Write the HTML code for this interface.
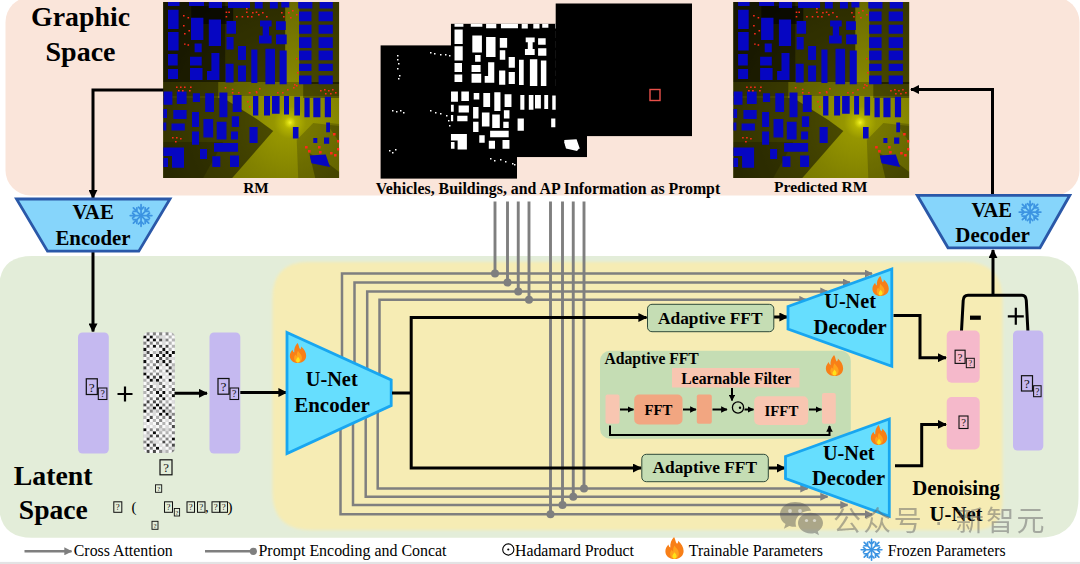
<!DOCTYPE html>
<html lang="en"><head><meta charset="utf-8"><title>RadioDiff framework</title>
<style>
html,body{margin:0;padding:0;background:#fff;}
body{width:1080px;height:564px;overflow:hidden;font-family:"Liberation Serif",serif;}
svg{display:block;}
text{font-family:"Liberation Serif",serif;fill:#000;}
.b{font-weight:bold;}
.cjk{font-family:"Liberation Sans","Noto Sans CJK SC",sans-serif;}
.gl{stroke:#7f7f7f;stroke-width:2.500;fill:none;}
.bl{stroke:#000;stroke-width:3;fill:none;}
.tofu rect{fill:none;stroke:#111;stroke-width:1.1;}
.tofu text{font-family:"Liberation Serif",serif;fill:#111;}
</style></head><body>
<svg width="1080" height="564" viewBox="0 0 1080 564">
<defs>
<radialGradient id="glow" gradientUnits="userSpaceOnUse" cx="126.800" cy="120.500" r="160">
<stop offset="0" stop-color="#e4e418"/><stop offset="0.035" stop-color="#b4b400"/><stop offset="0.1" stop-color="#969600"/><stop offset="0.35" stop-color="#828200"/><stop offset="0.7" stop-color="#6e6e00"/><stop offset="1" stop-color="#5a5a00"/>
</radialGradient>
<radialGradient id="spot"><stop offset="0" stop-color="#f4f430" stop-opacity="0.9"/><stop offset="0.35" stop-color="#e0e010" stop-opacity="0.5"/><stop offset="1" stop-color="#c0c000" stop-opacity="0"/></radialGradient>
<linearGradient id="topdark" x1="0" y1="0" x2="0" y2="1"><stop offset="0" stop-color="#000" stop-opacity="0.75"/><stop offset="0.45" stop-color="#000" stop-opacity="0.35"/><stop offset="0.6" stop-color="#000" stop-opacity="0"/></linearGradient>
<marker id="ab" viewBox="0 0 10 10" refX="9" refY="5" markerUnits="userSpaceOnUse" markerWidth="9" markerHeight="9" orient="auto-start-reverse"><path d="M0 0L10 5L0 10z" fill="#000"/></marker>
<marker id="abs" viewBox="0 0 10 10" refX="9" refY="5" markerUnits="userSpaceOnUse" markerWidth="6.5" markerHeight="6.5" orient="auto-start-reverse"><path d="M0 0L10 5L0 10z" fill="#000"/></marker>
<marker id="ag" viewBox="0 0 10 10" refX="9" refY="5" markerUnits="userSpaceOnUse" markerWidth="8" markerHeight="8" orient="auto-start-reverse"><path d="M0 0L10 5L0 10z" fill="#7f7f7f"/></marker>

<symbol id="rm" viewBox="0 0 176 176" preserveAspectRatio="none" overflow="hidden"><rect width="176" height="176" fill="#2c2c00"/><rect width="176" height="176" fill="url(#glow)"/>
<path d="M0 0H122V80H0z" fill="#000" opacity="0.58"/>
<path d="M0 0H62V80H0z" fill="#000" opacity="0.400"/>
<path d="M136 0H176V82H136z" fill="#000" opacity="0.480"/>
<path d="M0 96H60L95 118L110 129L69 176H0z" fill="#000" opacity="0.5"/>
<path d="M28 4H70V22H28z" fill="#000" opacity="0.55"/>
<path d="M0 80H176V94H0z" fill="#000" opacity="0.220"/>
<path d="M0 80H55V96H0z" fill="#000" opacity="0.400"/>
<path d="M140 80H176V96H140z" fill="#000" opacity="0.350"/>
<path d="M0 140H60L40 176H0z" fill="#000" opacity="0.2"/>
<path d="M133.500 138L135 176H176V124L150 121z" fill="#000" opacity="0.2"/>
<path d="M146 151L167 163L176 170V176H152z" fill="#000" opacity="0.3"/>
<path d="M163 121H167L176 122V140z" fill="#000" opacity="0.2"/>
<circle cx="126.800" cy="120.500" r="7" fill="url(#spot)"/>
<path d="M4.8 0H16.3V4H4.8ZM25.8 0H40.8V4H25.8ZM45.6 0H58.8V6H45.6ZM64.8 0H86.8V6H64.8ZM91.6 0H99.5V6.5H91.6ZM106.6 0H114.6V6.5H106.6ZM118.1 0H126.1V5.5H118.1ZM135 0H149.2V6.5H135ZM156.3 0H169.6V6.5H156.3ZM4.8 7.8H15.4V27H4.8ZM4.8 30H15.4V48.5H4.8ZM4.8 52H14.5V63.6H4.8ZM4.8 67H14.8V77H4.8ZM27.8 15.7H40.2V38H27.8ZM31.4 41.4H38.5V50.3H31.4ZM26.8 54.7H38.5V63.6H26.8ZM26.8 66H39.3V78H26.8ZM45.6 17.5H57.8V44H45.6ZM48.2 51H56.2V72.5H48.2ZM43.8 69H56.2V78H43.8ZM63.3 19H72.8V31.7H63.3ZM63.3 35H70.4V47.6H63.3ZM62.4 61.8H70.4V80.4H62.4ZM74.8 44H82.8V58H74.8ZM74.8 63.6H82.8V79.5H74.8ZM88.1 47.6H94.2V81H88.1ZM96.8 18.4H108.4V24.6H96.8ZM99.5 24.6H105.8V34.3H99.5ZM95.8 33.5H108.4V41.4H95.8ZM112.8 19.3H122.6V28H112.8ZM112.8 32.6H123.5V42.3H112.8ZM102.2 46.8H111.8V82.2H102.2ZM116.4 48.5H123.5V82.2H116.4ZM0.3 89.5H9.2V102.8H0.3ZM13.6 89.5H23.4V102H13.6ZM29.6 91.3H36.8V100H29.6ZM42 91.3H50.8V110H42ZM56.2 90.4H64.2V115.2H56.2ZM69.5 93H78.4V110H69.5ZM89.8 94H95.1V113.5H89.8ZM100.8 94H106.8V113.5H100.8ZM108.8 94H116.4V111.7H108.8ZM120.8 94H125.8V112.6H120.8ZM131.1 94.8H136.8V113.5H131.1ZM141.2 95.7H146.5V115.2H141.2ZM150.1 95.7H157.2V115.2H150.1ZM161.6 94.8H167.8V115.2H161.6ZM0 107H3.8V116H0ZM10.1 108H23.4V117H10.1ZM8.3 121.4H21.6V128.5H8.3ZM0 120.5H3.1V128.5H0ZM28.8 110H35.8V125H28.8ZM28.8 129.4H35.8V142.7H28.8ZM40.2 117H50V135.6H40.2ZM53.5 119.7H63.3V137.4H53.5ZM68.6 114.3H75.8V125H68.6ZM67.8 129.4H74.8V137.4H67.8ZM86.3 125H94.4V141H86.3ZM50.8 141H74.8V149.8H50.8ZM36.8 147H43.8V157H36.8ZM49.1 154.2H57.1V165H49.1ZM66.8 153.4H75.8V165H66.8ZM8.8 145.4H20.8V165.8H8.8ZM0 145.4H8.8V154H0ZM0 156H4.8V165H0ZM129.7 125H135.3V136.5H129.7ZM163 120.5H166.8V130.3H163ZM150.1 136H154.1V141H150.1ZM160.8 135.6H166V141.8H160.8ZM135.8 9.5H148.3V19.3H135.8ZM135.8 22.8H148.3V31.7H135.8ZM135.8 35.2H148.3V45.9H135.8ZM135.8 48.5H148.3V58.3H135.8ZM135.8 61.8H148.3V69H135.8ZM135.8 73.4H148.3V82.2H135.8ZM155.4 9.5H169.6V19.3H155.4ZM155.4 22.8H169.6V31.7H155.4ZM155.4 35.2H169.6V45.9H155.4ZM155.4 48.5H169.6V58.3H155.4ZM155.4 61.8H169.6V69H155.4ZM155.4 73.4H169.6V82.2H155.4ZM146.5 153.4L162.5 152.5L166.8 164.9L148.3 161.3Z" fill="#0606c2"/>
<path d="M19.8 13h1.600v1.400h-1.600zM24.3 15h1.600v1.400h-1.600zM19.8 23h1.600v1.400h-1.600zM25.2 28h1.600v1.400h-1.600zM20.8 31h1.600v1.400h-1.600zM20.8 41.4h1.600v1.400h-1.600zM24.3 42.3h1.600v1.400h-1.600zM62.4 9.5h1.600v1.400h-1.600zM65.1 9.5h1.600v1.400h-1.600zM62.4 14h1.600v1.400h-1.600zM72.8 14h1.600v1.400h-1.600zM78.4 14h1.600v1.400h-1.600zM83.8 14h1.600v1.400h-1.600zM87.8 14h1.600v1.400h-1.600zM82.8 9.5h1.600v1.400h-1.600zM92.5 9.5h1.600v1.400h-1.600zM12.8 84.5h1.600v1.400h-1.600zM16.8 84.5h1.600v1.400h-1.600zM20.8 84.5h1.600v1.400h-1.600zM26.8 84.5h1.600v1.400h-1.600zM14.8 88h1.600v1.400h-1.600zM18.8 88h1.600v1.400h-1.600zM25.8 88h1.600v1.400h-1.600zM61.5 85h1.600v1.400h-1.600zM68.6 86.7h1.600v1.400h-1.600zM68.6 90h1.600v1.400h-1.600zM74.8 90h1.600v1.400h-1.600zM85.5 90h1.600v1.400h-1.600zM92.5 89h1.600v1.400h-1.600zM8.8 135h1.600v1.400h-1.600zM12.8 135h1.600v1.400h-1.600zM16.8 136h1.600v1.400h-1.600zM11.8 139h1.600v1.400h-1.600zM85.8 90h1.600v1.400h-1.600zM92.8 90h1.600v1.400h-1.600zM95.8 86h1.600v1.400h-1.600zM83.8 99h1.600v1.400h-1.600zM85.8 104h1.600v1.400h-1.600zM113.8 90h1.600v1.400h-1.600zM118.8 90h1.600v1.400h-1.600zM123.8 87h1.600v1.400h-1.600zM129.8 85h1.600v1.400h-1.600zM132.8 83h1.600v1.400h-1.600zM156.8 88h1.600v1.400h-1.600zM160.8 87h1.600v1.400h-1.600zM164.8 88h1.600v1.400h-1.600zM168.8 87h1.600v1.400h-1.600zM161.8 91h1.600v1.400h-1.600zM166.8 91h1.600v1.400h-1.600zM171.8 90h1.600v1.400h-1.600zM124.8 10h1.600v1.400h-1.600zM128.8 8h1.600v1.400h-1.600zM132.8 12h1.600v1.400h-1.600zM126.8 15h1.600v1.400h-1.600zM132.8 56h1.600v1.400h-1.600zM133.8 70h1.600v1.400h-1.600zM130.8 82h1.600v1.400h-1.600zM141.8 144h2.600v2.400h-2.600zM144.8 148h2.600v2.400h-2.600zM154.8 144h2.600v2.400h-2.600zM155.8 149h2.600v2.400h-2.600zM166.8 150h2.600v2.400h-2.600zM170.8 152h2.600v2.400h-2.600zM169.8 131h2.600v2.400h-2.600zM173.8 138h2.600v2.400h-2.600zM173.8 146h2.600v2.400h-2.600zM82.8 6h1.600v1.400h-1.600zM88.8 10h1.600v1.400h-1.600zM94.8 12h1.600v1.400h-1.600zM98.8 10h1.600v1.400h-1.600zM102.8 14h1.600v1.400h-1.600zM117.8 10h1.600v1.400h-1.600zM119.8 14h1.600v1.400h-1.600z" fill="#ff2a1a"/>
</symbol>
<symbol id="bld" viewBox="0 0 176 176" preserveAspectRatio="none" overflow="hidden"><rect width="176" height="176" fill="#000"/><path d="M4.8 0H16.3V4H4.8ZM25.8 0H40.8V4H25.8ZM45.6 0H58.8V6H45.6ZM64.8 0H86.8V6H64.8ZM91.6 0H99.5V6.5H91.6ZM106.6 0H114.6V6.5H106.6ZM118.1 0H126.1V5.5H118.1ZM135 0H149.2V6.5H135ZM156.3 0H169.6V6.5H156.3ZM4.8 7.8H15.4V27H4.8ZM4.8 30H15.4V48.5H4.8ZM4.8 52H14.5V63.6H4.8ZM4.8 67H14.8V77H4.8ZM27.8 15.7H40.2V38H27.8ZM31.4 41.4H38.5V50.3H31.4ZM26.8 54.7H38.5V63.6H26.8ZM26.8 66H39.3V78H26.8ZM45.6 17.5H57.8V44H45.6ZM48.2 51H56.2V72.5H48.2ZM43.8 69H56.2V78H43.8ZM63.3 19H72.8V31.7H63.3ZM63.3 35H70.4V47.6H63.3ZM62.4 61.8H70.4V80.4H62.4ZM74.8 44H82.8V58H74.8ZM74.8 63.6H82.8V79.5H74.8ZM88.1 47.6H94.2V81H88.1ZM96.8 18.4H108.4V24.6H96.8ZM99.5 24.6H105.8V34.3H99.5ZM95.8 33.5H108.4V41.4H95.8ZM112.8 19.3H122.6V28H112.8ZM112.8 32.6H123.5V42.3H112.8ZM102.2 46.8H111.8V82.2H102.2ZM116.4 48.5H123.5V82.2H116.4ZM0.3 89.5H9.2V102.8H0.3ZM13.6 89.5H23.4V102H13.6ZM29.6 91.3H36.8V100H29.6ZM42 91.3H50.8V110H42ZM56.2 90.4H64.2V115.2H56.2ZM69.5 93H78.4V110H69.5ZM89.8 94H95.1V113.5H89.8ZM100.8 94H106.8V113.5H100.8ZM108.8 94H116.4V111.7H108.8ZM120.8 94H125.8V112.6H120.8ZM131.1 94.8H136.8V113.5H131.1ZM141.2 95.7H146.5V115.2H141.2ZM150.1 95.7H157.2V115.2H150.1ZM161.6 94.8H167.8V115.2H161.6ZM0 107H3.8V116H0ZM10.1 108H23.4V117H10.1ZM8.3 121.4H21.6V128.5H8.3ZM0 120.5H3.1V128.5H0ZM28.8 110H35.8V125H28.8ZM28.8 129.4H35.8V142.7H28.8ZM40.2 117H50V135.6H40.2ZM53.5 119.7H63.3V137.4H53.5ZM68.6 114.3H75.8V125H68.6ZM67.8 129.4H74.8V137.4H67.8ZM86.3 125H94.4V141H86.3ZM50.8 141H74.8V149.8H50.8ZM36.8 147H43.8V157H36.8ZM49.1 154.2H57.1V165H49.1ZM66.8 153.4H75.8V165H66.8ZM8.8 145.4H20.8V165.8H8.8ZM0 145.4H8.8V154H0ZM0 156H4.8V165H0ZM129.7 125H135.3V136.5H129.7ZM163 120.5H166.8V130.3H163ZM150.1 136H154.1V141H150.1ZM160.8 135.6H166V141.8H160.8ZM135.8 9.5H148.3V19.3H135.8ZM135.8 22.8H148.3V31.7H135.8ZM135.8 35.2H148.3V45.9H135.8ZM135.8 48.5H148.3V58.3H135.8ZM135.8 61.8H148.3V69H135.8ZM135.8 73.4H148.3V82.2H135.8ZM155.4 9.5H169.6V19.3H155.4ZM155.4 22.8H169.6V31.7H155.4ZM155.4 35.2H169.6V45.9H155.4ZM155.4 48.5H169.6V58.3H155.4ZM155.4 61.8H169.6V69H155.4ZM155.4 73.4H169.6V82.2H155.4ZM146.5 153.4L162.5 152.5L166.8 164.9L148.3 161.3Z" fill="#fff"/></symbol>
<symbol id="flame" viewBox="0 0 20 24" overflow="visible">
<path d="M9.5 0.3C11.5 3.2 10.6 5.4 12.6 7.6C13.6 6.7 13.9 5.6 13.7 4.3C17.2 7.4 19.6 11.2 19.6 15.2C19.6 20.2 15.6 23.7 10 23.7C4.4 23.7 0.4 20.2 0.4 15.4C0.4 12.4 1.9 10.2 3.6 8.2C3.9 9.8 4.5 10.8 5.6 11.4C5.2 7.2 6.6 3.2 9.5 0.3z" fill="#f87f17"/>
<path d="M10 9.5C11 11.8 14.6 13.9 14.6 17.7C14.6 21 12.6 23.2 10 23.2C7.4 23.2 5.4 21.2 5.4 18.2C5.4 16.4 6.2 15 7.2 13.9C7.5 14.9 7.9 15.4 8.6 15.7C8.4 13.4 8.9 11.2 10 9.5z" fill="#ffa31c"/>
<path d="M10 16.5C10.8 17.9 12.2 18.8 12.2 20.6C12.2 22.2 11.2 23.2 10 23.2C8.8 23.2 7.8 22.2 7.8 20.7C7.8 19.2 9.2 18.2 10 16.5z" fill="#ffe21a"/>
</symbol>
<symbol id="snow" viewBox="-12 -12 24 24" overflow="visible"><g stroke="#3c94e2" stroke-width="1.700" stroke-linecap="round" fill="none"><path d="M0 0V-10.600M0 -5.600L-2.500 -8.300M0 -5.600L2.500 -8.300" transform="rotate(0)"/><path d="M0 0V-10.600M0 -5.600L-2.500 -8.300M0 -5.600L2.500 -8.300" transform="rotate(45)"/><path d="M0 0V-10.600M0 -5.600L-2.500 -8.300M0 -5.600L2.500 -8.300" transform="rotate(90)"/><path d="M0 0V-10.600M0 -5.600L-2.500 -8.300M0 -5.600L2.500 -8.300" transform="rotate(135)"/><path d="M0 0V-10.600M0 -5.600L-2.500 -8.300M0 -5.600L2.500 -8.300" transform="rotate(180)"/><path d="M0 0V-10.600M0 -5.600L-2.500 -8.300M0 -5.600L2.500 -8.300" transform="rotate(225)"/><path d="M0 0V-10.600M0 -5.600L-2.500 -8.300M0 -5.600L2.500 -8.300" transform="rotate(270)"/><path d="M0 0V-10.600M0 -5.600L-2.500 -8.300M0 -5.600L2.500 -8.300" transform="rotate(315)"/></g></symbol>
</defs>
<rect x="5.500" y="-3" width="1074" height="198.400" rx="25" fill="#fae5da"/>
<path d="M32 256H1040Q1078.500 256 1078.500 294V497Q1078.500 537.700 1038.500 537.700H32Q-1 537.700 -1 504V289Q-1 256 32 256z" fill="#e3edd9"/>
<filter id="soft" x="-5%" y="-5%" width="110%" height="110%"><feGaussianBlur stdDeviation="1.6"/></filter>
<path d="M308.500 262H964.500Q1002.500 262 1002.500 300V502Q1002.500 530 974.500 530H310.500Q272.500 530 272.500 492V298Q272.500 262 308.500 262z" fill="#f6ecb4" filter="url(#soft)"/>
<path class="gl" d="M342 400V273.6H872" marker-end="url(#ag)"/>
<path class="gl" d="M340.5 400V514.25H872" marker-end="url(#ag)"/>
<path class="gl" style="stroke-width:2.900" d="M495 201.500V273.6"/>
<circle cx="495" cy="273.6" r="4" fill="#7f7f7f"/>
<path class="gl" style="stroke-width:2.900" d="M550.5 201.500V514.25"/>
<circle cx="550.5" cy="514.25" r="4" fill="#7f7f7f"/>
<path class="gl" d="M354.5 400V282.5H850" marker-end="url(#ag)"/>
<path class="gl" d="M353 400V505H847.5" marker-end="url(#ag)"/>
<path class="gl" style="stroke-width:2.900" d="M507.5 201.500V282.5"/>
<circle cx="507.5" cy="282.5" r="4" fill="#7f7f7f"/>
<path class="gl" style="stroke-width:2.900" d="M562.5 201.500V505"/>
<circle cx="562.5" cy="505" r="4" fill="#7f7f7f"/>
<path class="gl" d="M367.2 400V291.4H827.5" marker-end="url(#ag)"/>
<path class="gl" d="M365.7 400V496.75H827.5" marker-end="url(#ag)"/>
<path class="gl" style="stroke-width:2.900" d="M518.25 201.500V291.4"/>
<circle cx="518.25" cy="291.4" r="4" fill="#7f7f7f"/>
<path class="gl" style="stroke-width:2.900" d="M573.25 201.500V496.75"/>
<circle cx="573.25" cy="496.75" r="4" fill="#7f7f7f"/>
<path class="gl" d="M379.5 400V299.8H806.5" marker-end="url(#ag)"/>
<path class="gl" d="M377.7 400V488.5H807.5" marker-end="url(#ag)"/>
<path class="gl" style="stroke-width:2.900" d="M529 201.500V299.8"/>
<circle cx="529" cy="299.8" r="4" fill="#7f7f7f"/>
<path class="gl" style="stroke-width:2.900" d="M584 201.500V488.5"/>
<circle cx="584" cy="488.5" r="4" fill="#7f7f7f"/>
<use href="#rm" x="163.2" y="2" width="176" height="176"/>
<use href="#rm" x="733.3" y="2" width="176" height="176"/>
<rect x="380.600" y="45.400" width="136.400" height="133.200" fill="#000"/>
<path d="M397 55h1.5v1.5h-1.5zM397 59h1.5v1.5h-1.5zM398 63h1.5v1.5h-1.5zM397 68h1.5v1.5h-1.5zM399 75h1.5v1.5h-1.5zM398 78h1.5v1.5h-1.5zM430 52h1.5v1.5h-1.5zM434 53h1.5v1.5h-1.5zM440 54h1.5v1.5h-1.5zM445 54h1.5v1.5h-1.5zM449 55h1.5v1.5h-1.5zM392 110h1.5v1.5h-1.5zM396 111h1.5v1.5h-1.5zM400 110h1.5v1.5h-1.5zM403 112h1.5v1.5h-1.5zM430 110h1.5v1.5h-1.5zM435 112h1.5v1.5h-1.5zM440 113h1.5v1.5h-1.5zM446 115h1.5v1.5h-1.5zM448 120h1.5v1.5h-1.5zM449 125h1.5v1.5h-1.5zM389 150h1.5v1.5h-1.5zM392 152h1.5v1.5h-1.5zM395 149h1.5v1.5h-1.5zM490 158h1.5v1.5h-1.5zM494 160h1.5v1.5h-1.5zM500 159h1.5v1.5h-1.5zM505 161h1.5v1.5h-1.5zM512 163h1.5v1.5h-1.5zM514 164h1.5v1.5h-1.5z" fill="#fff"/>
<use href="#bld" x="450.800" y="23.600" width="136.200" height="133.600"/>
<path d="M564 141.5L575 141L579 148.5L577 151L566 148.5z" fill="#fff"/>
<rect x="555.7" y="3.5" width="136.3" height="132.6" fill="#000"/>
<rect x="650" y="89.5" width="10" height="11" fill="none" stroke="#e8504a" stroke-width="1.4"/>
<path class="bl" d="M163.500 90H93V198" marker-end="url(#ab)"/>
<path class="bl" d="M93 252V331.5" marker-end="url(#ab)"/>
<path class="bl" d="M992.500 195V89.500H911" marker-end="url(#ab)"/>
<path class="bl" d="M961.500 331L963.200 300.500Q963.500 295.300 968 295.300H1022Q1026 295.300 1026.300 300.500L1027.900 331"/>
<path class="bl" d="M993 295.300V250" marker-end="url(#ab)"/>
<path d="M16.500 199H170L138.800 251.200H47.500z" fill="#86d5fb" stroke="#2a58a8" stroke-width="2.800"/>
<path d="M917.300 195.300H1069.800L1040 247.800H948z" fill="#86d5fb" stroke="#2a58a8" stroke-width="2.800"/>
<use href="#snow" x="128.800" y="203.300" width="24.500" height="24.500"/>
<use href="#snow" x="1017.800" y="199.800" width="24.500" height="24.500"/>
<rect x="78" y="332.5" width="30.8" height="121" rx="4.5" fill="#c5b9f0"/>
<rect x="209.5" y="332.5" width="30.8" height="121" rx="4.5" fill="#c5b9f0"/>
<rect x="1013" y="330.5" width="30.3" height="120" rx="4.5" fill="#c5b9f0"/>
<rect x="946.7" y="330.5" width="33" height="52.3" rx="5" fill="#f5b9cb"/>
<rect x="946.7" y="397" width="33" height="52.5" rx="5" fill="#f5b9cb"/>
<clipPath id="nc"><rect x="143.3" y="332.3" width="31.6" height="120.6" rx="5"/></clipPath><g clip-path="url(#nc)"><rect x="143.3" y="332.3" width="31.6" height="120.6" fill="#bbb"/>
<path d="M143.3 335.4h3.2v3.1h-3.2zM149.6 335.4h3.2v3.1h-3.2zM146.5 338.5h3.2v3.1h-3.2zM152.8 338.5h3.2v3.1h-3.2zM152.8 344.7h3.2v3.1h-3.2zM143.3 347.8h3.2v3.1h-3.2zM162.3 347.8h3.2v3.1h-3.2zM165.4 350.9h3.2v3.1h-3.2zM171.7 350.9h3.2v3.1h-3.2zM149.6 353.9h3.2v3.1h-3.2zM155.9 353.9h3.2v3.1h-3.2zM162.3 353.9h3.2v3.1h-3.2zM168.6 353.9h3.2v3.1h-3.2zM143.3 360.1h3.2v3.1h-3.2zM162.3 360.1h3.2v3.1h-3.2zM165.4 363.2h3.2v3.1h-3.2zM155.9 366.3h3.2v3.1h-3.2zM143.3 372.5h3.2v3.1h-3.2zM168.6 372.5h3.2v3.1h-3.2zM146.5 375.6h3.2v3.1h-3.2zM159.1 375.6h3.2v3.1h-3.2zM149.6 378.7h3.2v3.1h-3.2zM155.9 378.7h3.2v3.1h-3.2zM168.6 378.7h3.2v3.1h-3.2zM155.9 391.1h3.2v3.1h-3.2zM162.3 391.1h3.2v3.1h-3.2zM159.1 394.1h3.2v3.1h-3.2zM171.7 394.1h3.2v3.1h-3.2zM162.3 397.2h3.2v3.1h-3.2zM155.9 403.4h3.2v3.1h-3.2zM152.8 406.5h3.2v3.1h-3.2zM159.1 406.5h3.2v3.1h-3.2zM143.3 409.6h3.2v3.1h-3.2zM162.3 409.6h3.2v3.1h-3.2zM159.1 412.7h3.2v3.1h-3.2zM165.4 412.7h3.2v3.1h-3.2zM146.5 418.9h3.2v3.1h-3.2zM143.3 428.2h3.2v3.1h-3.2zM152.8 431.3h3.2v3.1h-3.2zM171.7 437.4h3.2v3.1h-3.2zM146.5 443.6h3.2v3.1h-3.2zM155.9 446.7h3.2v3.1h-3.2z" fill="#0c0c0c"/>
<path d="M159.1 338.5h3.2v3.1h-3.2zM146.5 344.7h3.2v3.1h-3.2zM159.1 344.7h3.2v3.1h-3.2zM165.4 344.7h3.2v3.1h-3.2zM146.5 350.9h3.2v3.1h-3.2zM159.1 350.9h3.2v3.1h-3.2zM159.1 357h3.2v3.1h-3.2zM155.9 360.1h3.2v3.1h-3.2zM168.6 360.1h3.2v3.1h-3.2zM143.3 366.3h3.2v3.1h-3.2zM168.6 366.3h3.2v3.1h-3.2zM165.4 369.4h3.2v3.1h-3.2zM152.8 375.6h3.2v3.1h-3.2zM149.6 384.9h3.2v3.1h-3.2zM162.3 384.9h3.2v3.1h-3.2zM146.5 388h3.2v3.1h-3.2zM171.7 388h3.2v3.1h-3.2zM155.9 397.2h3.2v3.1h-3.2zM146.5 400.3h3.2v3.1h-3.2zM152.8 400.3h3.2v3.1h-3.2zM143.3 403.4h3.2v3.1h-3.2zM168.6 403.4h3.2v3.1h-3.2zM149.6 415.8h3.2v3.1h-3.2zM168.6 415.8h3.2v3.1h-3.2zM171.7 425.1h3.2v3.1h-3.2zM149.6 434.3h3.2v3.1h-3.2zM155.9 434.3h3.2v3.1h-3.2zM146.5 437.4h3.2v3.1h-3.2zM162.3 440.5h3.2v3.1h-3.2zM152.8 443.6h3.2v3.1h-3.2zM171.7 443.6h3.2v3.1h-3.2zM146.5 449.8h3.2v3.1h-3.2zM152.8 449.8h3.2v3.1h-3.2z" fill="#4a4a4a"/>
<path d="M146.5 332.3h3.2v3.1h-3.2zM152.8 332.3h3.2v3.1h-3.2zM159.1 332.3h3.2v3.1h-3.2zM165.4 332.3h3.2v3.1h-3.2zM165.4 338.5h3.2v3.1h-3.2zM143.3 341.6h3.2v3.1h-3.2zM149.6 341.6h3.2v3.1h-3.2zM155.9 341.6h3.2v3.1h-3.2zM143.3 353.9h3.2v3.1h-3.2zM165.4 357h3.2v3.1h-3.2zM146.5 363.2h3.2v3.1h-3.2zM152.8 363.2h3.2v3.1h-3.2zM149.6 372.5h3.2v3.1h-3.2zM155.9 372.5h3.2v3.1h-3.2zM159.1 381.8h3.2v3.1h-3.2zM152.8 388h3.2v3.1h-3.2zM159.1 388h3.2v3.1h-3.2zM149.6 391.1h3.2v3.1h-3.2zM168.6 391.1h3.2v3.1h-3.2zM146.5 394.1h3.2v3.1h-3.2zM149.6 397.2h3.2v3.1h-3.2zM159.1 400.3h3.2v3.1h-3.2zM149.6 403.4h3.2v3.1h-3.2zM162.3 403.4h3.2v3.1h-3.2zM146.5 406.5h3.2v3.1h-3.2zM165.4 406.5h3.2v3.1h-3.2zM149.6 409.6h3.2v3.1h-3.2zM168.6 409.6h3.2v3.1h-3.2zM171.7 412.7h3.2v3.1h-3.2zM162.3 415.8h3.2v3.1h-3.2zM159.1 418.9h3.2v3.1h-3.2zM171.7 418.9h3.2v3.1h-3.2zM155.9 422h3.2v3.1h-3.2zM168.6 422h3.2v3.1h-3.2zM149.6 428.2h3.2v3.1h-3.2zM155.9 428.2h3.2v3.1h-3.2zM171.7 431.3h3.2v3.1h-3.2zM162.3 434.3h3.2v3.1h-3.2zM165.4 437.4h3.2v3.1h-3.2zM143.3 440.5h3.2v3.1h-3.2zM149.6 440.5h3.2v3.1h-3.2zM168.6 440.5h3.2v3.1h-3.2zM165.4 443.6h3.2v3.1h-3.2zM149.6 446.7h3.2v3.1h-3.2zM159.1 449.8h3.2v3.1h-3.2zM171.7 449.8h3.2v3.1h-3.2z" fill="#858585"/>
<path d="M171.7 332.3h3.2v3.1h-3.2zM155.9 335.4h3.2v3.1h-3.2zM168.6 335.4h3.2v3.1h-3.2zM171.7 338.5h3.2v3.1h-3.2zM168.6 341.6h3.2v3.1h-3.2zM171.7 344.7h3.2v3.1h-3.2zM168.6 347.8h3.2v3.1h-3.2zM152.8 350.9h3.2v3.1h-3.2zM146.5 357h3.2v3.1h-3.2zM149.6 360.1h3.2v3.1h-3.2zM159.1 363.2h3.2v3.1h-3.2zM171.7 363.2h3.2v3.1h-3.2zM149.6 366.3h3.2v3.1h-3.2zM152.8 369.4h3.2v3.1h-3.2zM159.1 369.4h3.2v3.1h-3.2zM171.7 369.4h3.2v3.1h-3.2zM171.7 375.6h3.2v3.1h-3.2zM143.3 378.7h3.2v3.1h-3.2zM162.3 378.7h3.2v3.1h-3.2zM146.5 381.8h3.2v3.1h-3.2zM171.7 381.8h3.2v3.1h-3.2zM143.3 384.9h3.2v3.1h-3.2zM168.6 384.9h3.2v3.1h-3.2zM143.3 391.1h3.2v3.1h-3.2zM165.4 394.1h3.2v3.1h-3.2zM168.6 397.2h3.2v3.1h-3.2zM165.4 400.3h3.2v3.1h-3.2zM171.7 406.5h3.2v3.1h-3.2zM155.9 409.6h3.2v3.1h-3.2zM146.5 412.7h3.2v3.1h-3.2zM143.3 415.8h3.2v3.1h-3.2zM155.9 415.8h3.2v3.1h-3.2zM152.8 418.9h3.2v3.1h-3.2zM162.3 422h3.2v3.1h-3.2zM159.1 425.1h3.2v3.1h-3.2zM162.3 428.2h3.2v3.1h-3.2zM168.6 428.2h3.2v3.1h-3.2zM146.5 431.3h3.2v3.1h-3.2zM159.1 431.3h3.2v3.1h-3.2zM165.4 431.3h3.2v3.1h-3.2zM168.6 434.3h3.2v3.1h-3.2zM159.1 437.4h3.2v3.1h-3.2zM143.3 446.7h3.2v3.1h-3.2zM168.6 446.7h3.2v3.1h-3.2zM165.4 449.8h3.2v3.1h-3.2z" fill="#b4b4b4"/>
<path d="M159.1 335.4h3.2v3.1h-3.2zM162.3 335.4h3.2v3.1h-3.2zM162.3 338.5h3.2v3.1h-3.2zM162.3 341.6h3.2v3.1h-3.2zM149.6 347.8h3.2v3.1h-3.2zM155.9 347.8h3.2v3.1h-3.2zM143.3 350.9h3.2v3.1h-3.2zM155.9 350.9h3.2v3.1h-3.2zM162.3 350.9h3.2v3.1h-3.2zM152.8 357h3.2v3.1h-3.2zM168.6 357h3.2v3.1h-3.2zM171.7 357h3.2v3.1h-3.2zM159.1 360.1h3.2v3.1h-3.2zM162.3 366.3h3.2v3.1h-3.2zM171.7 366.3h3.2v3.1h-3.2zM143.3 369.4h3.2v3.1h-3.2zM146.5 369.4h3.2v3.1h-3.2zM162.3 372.5h3.2v3.1h-3.2zM165.4 375.6h3.2v3.1h-3.2zM152.8 378.7h3.2v3.1h-3.2zM152.8 381.8h3.2v3.1h-3.2zM155.9 381.8h3.2v3.1h-3.2zM165.4 381.8h3.2v3.1h-3.2zM155.9 384.9h3.2v3.1h-3.2zM155.9 388h3.2v3.1h-3.2zM165.4 388h3.2v3.1h-3.2zM152.8 394.1h3.2v3.1h-3.2zM143.3 397.2h3.2v3.1h-3.2zM171.7 400.3h3.2v3.1h-3.2zM149.6 406.5h3.2v3.1h-3.2zM152.8 409.6h3.2v3.1h-3.2zM165.4 409.6h3.2v3.1h-3.2zM152.8 412.7h3.2v3.1h-3.2zM168.6 412.7h3.2v3.1h-3.2zM165.4 418.9h3.2v3.1h-3.2zM143.3 422h3.2v3.1h-3.2zM149.6 422h3.2v3.1h-3.2zM146.5 425.1h3.2v3.1h-3.2zM152.8 425.1h3.2v3.1h-3.2zM165.4 425.1h3.2v3.1h-3.2zM159.1 428.2h3.2v3.1h-3.2zM165.4 428.2h3.2v3.1h-3.2zM143.3 434.3h3.2v3.1h-3.2zM146.5 434.3h3.2v3.1h-3.2zM152.8 437.4h3.2v3.1h-3.2zM152.8 440.5h3.2v3.1h-3.2zM155.9 440.5h3.2v3.1h-3.2zM159.1 443.6h3.2v3.1h-3.2zM162.3 446.7h3.2v3.1h-3.2zM171.7 446.7h3.2v3.1h-3.2zM162.3 449.8h3.2v3.1h-3.2z" fill="#dcdcdc"/>
<path d="M143.3 332.3h3.2v3.1h-3.2zM149.6 332.3h3.2v3.1h-3.2zM155.9 332.3h3.2v3.1h-3.2zM162.3 332.3h3.2v3.1h-3.2zM168.6 332.3h3.2v3.1h-3.2zM146.5 335.4h3.2v3.1h-3.2zM152.8 335.4h3.2v3.1h-3.2zM165.4 335.4h3.2v3.1h-3.2zM171.7 335.4h3.2v3.1h-3.2zM143.3 338.5h3.2v3.1h-3.2zM149.6 338.5h3.2v3.1h-3.2zM155.9 338.5h3.2v3.1h-3.2zM168.6 338.5h3.2v3.1h-3.2zM146.5 341.6h3.2v3.1h-3.2zM152.8 341.6h3.2v3.1h-3.2zM159.1 341.6h3.2v3.1h-3.2zM165.4 341.6h3.2v3.1h-3.2zM171.7 341.6h3.2v3.1h-3.2zM143.3 344.7h3.2v3.1h-3.2zM149.6 344.7h3.2v3.1h-3.2zM155.9 344.7h3.2v3.1h-3.2zM162.3 344.7h3.2v3.1h-3.2zM168.6 344.7h3.2v3.1h-3.2zM146.5 347.8h3.2v3.1h-3.2zM152.8 347.8h3.2v3.1h-3.2zM159.1 347.8h3.2v3.1h-3.2zM165.4 347.8h3.2v3.1h-3.2zM171.7 347.8h3.2v3.1h-3.2zM149.6 350.9h3.2v3.1h-3.2zM168.6 350.9h3.2v3.1h-3.2zM146.5 353.9h3.2v3.1h-3.2zM152.8 353.9h3.2v3.1h-3.2zM159.1 353.9h3.2v3.1h-3.2zM165.4 353.9h3.2v3.1h-3.2zM171.7 353.9h3.2v3.1h-3.2zM143.3 357h3.2v3.1h-3.2zM149.6 357h3.2v3.1h-3.2zM155.9 357h3.2v3.1h-3.2zM162.3 357h3.2v3.1h-3.2zM146.5 360.1h3.2v3.1h-3.2zM152.8 360.1h3.2v3.1h-3.2zM165.4 360.1h3.2v3.1h-3.2zM171.7 360.1h3.2v3.1h-3.2zM143.3 363.2h3.2v3.1h-3.2zM149.6 363.2h3.2v3.1h-3.2zM155.9 363.2h3.2v3.1h-3.2zM162.3 363.2h3.2v3.1h-3.2zM168.6 363.2h3.2v3.1h-3.2zM146.5 366.3h3.2v3.1h-3.2zM152.8 366.3h3.2v3.1h-3.2zM159.1 366.3h3.2v3.1h-3.2zM165.4 366.3h3.2v3.1h-3.2zM149.6 369.4h3.2v3.1h-3.2zM155.9 369.4h3.2v3.1h-3.2zM162.3 369.4h3.2v3.1h-3.2zM168.6 369.4h3.2v3.1h-3.2zM146.5 372.5h3.2v3.1h-3.2zM152.8 372.5h3.2v3.1h-3.2zM159.1 372.5h3.2v3.1h-3.2zM165.4 372.5h3.2v3.1h-3.2zM171.7 372.5h3.2v3.1h-3.2zM143.3 375.6h3.2v3.1h-3.2zM149.6 375.6h3.2v3.1h-3.2zM155.9 375.6h3.2v3.1h-3.2zM162.3 375.6h3.2v3.1h-3.2zM168.6 375.6h3.2v3.1h-3.2zM146.5 378.7h3.2v3.1h-3.2zM159.1 378.7h3.2v3.1h-3.2zM165.4 378.7h3.2v3.1h-3.2zM171.7 378.7h3.2v3.1h-3.2zM143.3 381.8h3.2v3.1h-3.2zM149.6 381.8h3.2v3.1h-3.2zM162.3 381.8h3.2v3.1h-3.2zM168.6 381.8h3.2v3.1h-3.2zM146.5 384.9h3.2v3.1h-3.2zM152.8 384.9h3.2v3.1h-3.2zM159.1 384.9h3.2v3.1h-3.2zM165.4 384.9h3.2v3.1h-3.2zM171.7 384.9h3.2v3.1h-3.2zM143.3 388h3.2v3.1h-3.2zM149.6 388h3.2v3.1h-3.2zM162.3 388h3.2v3.1h-3.2zM168.6 388h3.2v3.1h-3.2zM146.5 391.1h3.2v3.1h-3.2zM152.8 391.1h3.2v3.1h-3.2zM159.1 391.1h3.2v3.1h-3.2zM165.4 391.1h3.2v3.1h-3.2zM171.7 391.1h3.2v3.1h-3.2zM143.3 394.1h3.2v3.1h-3.2zM149.6 394.1h3.2v3.1h-3.2zM155.9 394.1h3.2v3.1h-3.2zM162.3 394.1h3.2v3.1h-3.2zM168.6 394.1h3.2v3.1h-3.2zM146.5 397.2h3.2v3.1h-3.2zM152.8 397.2h3.2v3.1h-3.2zM159.1 397.2h3.2v3.1h-3.2zM165.4 397.2h3.2v3.1h-3.2zM171.7 397.2h3.2v3.1h-3.2zM143.3 400.3h3.2v3.1h-3.2zM149.6 400.3h3.2v3.1h-3.2zM155.9 400.3h3.2v3.1h-3.2zM162.3 400.3h3.2v3.1h-3.2zM168.6 400.3h3.2v3.1h-3.2zM146.5 403.4h3.2v3.1h-3.2zM152.8 403.4h3.2v3.1h-3.2zM159.1 403.4h3.2v3.1h-3.2zM165.4 403.4h3.2v3.1h-3.2zM171.7 403.4h3.2v3.1h-3.2zM143.3 406.5h3.2v3.1h-3.2zM155.9 406.5h3.2v3.1h-3.2zM162.3 406.5h3.2v3.1h-3.2zM168.6 406.5h3.2v3.1h-3.2zM146.5 409.6h3.2v3.1h-3.2zM159.1 409.6h3.2v3.1h-3.2zM171.7 409.6h3.2v3.1h-3.2zM143.3 412.7h3.2v3.1h-3.2zM149.6 412.7h3.2v3.1h-3.2zM155.9 412.7h3.2v3.1h-3.2zM162.3 412.7h3.2v3.1h-3.2zM146.5 415.8h3.2v3.1h-3.2zM152.8 415.8h3.2v3.1h-3.2zM159.1 415.8h3.2v3.1h-3.2zM165.4 415.8h3.2v3.1h-3.2zM171.7 415.8h3.2v3.1h-3.2zM143.3 418.9h3.2v3.1h-3.2zM149.6 418.9h3.2v3.1h-3.2zM155.9 418.9h3.2v3.1h-3.2zM162.3 418.9h3.2v3.1h-3.2zM168.6 418.9h3.2v3.1h-3.2zM146.5 422h3.2v3.1h-3.2zM152.8 422h3.2v3.1h-3.2zM159.1 422h3.2v3.1h-3.2zM165.4 422h3.2v3.1h-3.2zM171.7 422h3.2v3.1h-3.2zM143.3 425.1h3.2v3.1h-3.2zM149.6 425.1h3.2v3.1h-3.2zM155.9 425.1h3.2v3.1h-3.2zM162.3 425.1h3.2v3.1h-3.2zM168.6 425.1h3.2v3.1h-3.2zM146.5 428.2h3.2v3.1h-3.2zM152.8 428.2h3.2v3.1h-3.2zM171.7 428.2h3.2v3.1h-3.2zM143.3 431.3h3.2v3.1h-3.2zM149.6 431.3h3.2v3.1h-3.2zM155.9 431.3h3.2v3.1h-3.2zM162.3 431.3h3.2v3.1h-3.2zM168.6 431.3h3.2v3.1h-3.2zM152.8 434.3h3.2v3.1h-3.2zM159.1 434.3h3.2v3.1h-3.2zM165.4 434.3h3.2v3.1h-3.2zM171.7 434.3h3.2v3.1h-3.2zM143.3 437.4h3.2v3.1h-3.2zM149.6 437.4h3.2v3.1h-3.2zM155.9 437.4h3.2v3.1h-3.2zM162.3 437.4h3.2v3.1h-3.2zM168.6 437.4h3.2v3.1h-3.2zM146.5 440.5h3.2v3.1h-3.2zM159.1 440.5h3.2v3.1h-3.2zM165.4 440.5h3.2v3.1h-3.2zM171.7 440.5h3.2v3.1h-3.2zM143.3 443.6h3.2v3.1h-3.2zM149.6 443.6h3.2v3.1h-3.2zM155.9 443.6h3.2v3.1h-3.2zM162.3 443.6h3.2v3.1h-3.2zM168.6 443.6h3.2v3.1h-3.2zM146.5 446.7h3.2v3.1h-3.2zM152.8 446.7h3.2v3.1h-3.2zM159.1 446.7h3.2v3.1h-3.2zM165.4 446.7h3.2v3.1h-3.2zM143.3 449.8h3.2v3.1h-3.2zM149.6 449.8h3.2v3.1h-3.2zM155.9 449.8h3.2v3.1h-3.2zM168.6 449.8h3.2v3.1h-3.2z" fill="#fafafa"/>
</g>
<path d="M117.5 394H132.5M125 386.5V401.5" stroke="#000" stroke-width="2.2"/>
<path class="bl" d="M174.5 393.3H207" marker-end="url(#ab)"/>
<path class="bl" d="M240.3 392.5H286.5" marker-end="url(#ab)"/>
<path d="M287 332.5L391.2 380V405.5L287 453.5z" fill="#66defe" stroke="#18a6f0" stroke-width="2.800"/>
<path class="bl" d="M392 393H411.2"/>
<path class="bl" d="M411.2 393V317.5H646.5" marker-end="url(#ab)"/>
<path class="bl" d="M411.2 393V468H641" marker-end="url(#ab)"/>
<path class="bl" d="M774 317H787.5" marker-end="url(#ab)"/>
<path class="bl" d="M768.5 468H785" marker-end="url(#ab)"/>
<path class="bl" d="M893.5 315.5H920V357.7H946" marker-end="url(#ab)"/>
<path class="bl" d="M895 465.800H921.700V424.400H946" marker-end="url(#ab)"/>
<rect x="647.5" y="304.3" width="126.3" height="27.4" rx="4.5" fill="#c5ddb4" stroke="#2f4a3a" stroke-width="1"/>
<rect x="641.8" y="454.3" width="126.5" height="27.4" rx="4.5" fill="#c5ddb4" stroke="#2f4a3a" stroke-width="1"/>
<rect x="600" y="350.8" width="250.8" height="88" rx="10" fill="#c5ddb4"/>
<rect x="672" y="368" width="127.5" height="19.5" fill="#f8c6b1"/>
<rect x="605.5" y="394.5" width="14" height="29.3" rx="2" fill="#f8c6b1"/>
<rect x="634.2" y="394.5" width="48.3" height="30" rx="5" fill="#f2a681"/>
<rect x="696.8" y="394.5" width="15" height="29.3" rx="2" fill="#f2a681"/>
<rect x="754.2" y="396.2" width="54" height="28.8" rx="5" fill="#f8c6b1"/>
<rect x="822" y="393" width="13.8" height="30.8" rx="2" fill="#f8c6b1"/>
<g stroke="#000" stroke-width="2" fill="none">
<path d="M620 409.5H633.5" marker-end="url(#abs)"/>
<path d="M683 409.5H696" marker-end="url(#abs)"/>
<path d="M712.5 409.5H727" marker-end="url(#abs)"/>
<path d="M744.5 409.5H753.5" marker-end="url(#abs)"/>
<path d="M809 409.5H821.5" marker-end="url(#abs)"/>
<path d="M732 388V400.5" marker-end="url(#abs)"/>
<path d="M610 425.5V435H829.5V426" marker-end="url(#abs)"/>
</g>
<circle cx="738" cy="407.5" r="5.6" fill="none" stroke="#000" stroke-width="1.3"/><circle cx="740" cy="407.8" r="1.2" fill="#000"/>
<path d="M788 306.500L891.800 269V366.200L788 329z" fill="#66defe" stroke="#18a6f0" stroke-width="2.800"/>
<path d="M785.500 456.500L889.300 419V516.200L785.500 478.500z" fill="#66defe" stroke="#18a6f0" stroke-width="2.800"/>
<use href="#flame" x="289.5" y="342.5" width="17" height="21"/>
<use href="#flame" x="825.5" y="354.5" width="18" height="22"/>
<use href="#flame" x="872.1" y="275.5" width="17" height="21"/>
<use href="#flame" x="870.5" y="424.5" width="17" height="21"/>
<use href="#flame" x="665.0" y="536.5" width="19" height="23"/>
<text x="31" y="26" font-size="28" class="b" text-anchor="start" textLength="99" lengthAdjust="spacingAndGlyphs">Graphic</text>
<text x="45.5" y="60.8" font-size="28" class="b" text-anchor="start" textLength="70" lengthAdjust="spacingAndGlyphs">Space</text>
<text x="13.8" y="485" font-size="28" class="b" text-anchor="start" textLength="78.8" lengthAdjust="spacingAndGlyphs">Latent</text>
<text x="18.8" y="518.8" font-size="28" class="b" text-anchor="start" textLength="69" lengthAdjust="spacingAndGlyphs">Space</text>
<text x="243.3" y="192.5" font-size="15.5" class="b" text-anchor="start" textLength="25.5" lengthAdjust="spacingAndGlyphs">RM</text>
<text x="375.8" y="193.5" font-size="15.9" class="b" text-anchor="start" textLength="344.4" lengthAdjust="spacingAndGlyphs">Vehicles, Buildings, and AP Information as Prompt</text>
<text x="774" y="191.5" font-size="15.6" class="b" text-anchor="start" textLength="93.5" lengthAdjust="spacingAndGlyphs">Predicted RM</text>
<text x="72.5" y="218.7" font-size="21" class="b" text-anchor="start" textLength="41.3" lengthAdjust="spacingAndGlyphs">VAE</text>
<text x="55.5" y="244.5" font-size="21" class="b" text-anchor="start" textLength="75" lengthAdjust="spacingAndGlyphs">Encoder</text>
<text x="971.5" y="216.6" font-size="21" class="b" text-anchor="start" textLength="40.5" lengthAdjust="spacingAndGlyphs">VAE</text>
<text x="955.3" y="242" font-size="21" class="b" text-anchor="start" textLength="74.5" lengthAdjust="spacingAndGlyphs">Decoder</text>
<text x="305.7" y="385.5" font-size="21.3" class="b" text-anchor="start" textLength="52" lengthAdjust="spacingAndGlyphs">U-Net</text>
<text x="294.3" y="412" font-size="21.3" class="b" text-anchor="start" textLength="75.5" lengthAdjust="spacingAndGlyphs">Encoder</text>
<text x="824.3" y="307.8" font-size="21.3" class="b" text-anchor="start" textLength="51.6" lengthAdjust="spacingAndGlyphs">U-Net</text>
<text x="813.6" y="333.6" font-size="21.3" class="b" text-anchor="start" textLength="73" lengthAdjust="spacingAndGlyphs">Decoder</text>
<text x="823" y="459.5" font-size="21.3" class="b" text-anchor="start" textLength="51.6" lengthAdjust="spacingAndGlyphs">U-Net</text>
<text x="812" y="484.6" font-size="21.3" class="b" text-anchor="start" textLength="73" lengthAdjust="spacingAndGlyphs">Decoder</text>
<text x="658" y="323.8" font-size="17.3" class="b" text-anchor="start" textLength="104.5" lengthAdjust="spacingAndGlyphs">Adaptive FFT</text>
<text x="652.5" y="473.3" font-size="17.3" class="b" text-anchor="start" textLength="104.5" lengthAdjust="spacingAndGlyphs">Adaptive FFT</text>
<text x="604.5" y="363.8" font-size="15.7" class="b" text-anchor="start" textLength="94.3" lengthAdjust="spacingAndGlyphs">Adaptive FFT</text>
<text x="681.3" y="383.8" font-size="15.7" class="b" text-anchor="start" textLength="110" lengthAdjust="spacingAndGlyphs">Learnable Filter</text>
<text x="644.5" y="414.5" font-size="15" class="b" text-anchor="start" textLength="28" lengthAdjust="spacingAndGlyphs">FFT</text>
<text x="764.5" y="415.5" font-size="15" class="b" text-anchor="start" textLength="33.8" lengthAdjust="spacingAndGlyphs">IFFT</text>
<text x="912.2" y="495.4" font-size="21" class="b" text-anchor="start" textLength="87.7" lengthAdjust="spacingAndGlyphs">Denoising</text>
<text x="929.5" y="521.4" font-size="21" class="b" text-anchor="start" textLength="53" lengthAdjust="spacingAndGlyphs">U-Net</text>
<path d="M970 317.700H980.800" stroke="#000" stroke-width="4.200"/>
<path d="M1007.800 316.300H1023.800M1015.800 307.800V324.800" stroke="#000" stroke-width="2.2"/>
<path class="gl" d="M24.5 551.3H71.5" marker-end="url(#ag)"/>
<text x="73.8" y="555.5" font-size="15.8" class="" text-anchor="start" textLength="99" lengthAdjust="spacingAndGlyphs">Cross Attention</text>
<path class="gl" d="M205 551.3H252"/><circle cx="253.3" cy="551.3" r="3.6" fill="#7f7f7f"/>
<text x="258.5" y="555.5" font-size="15.8" class="" text-anchor="start" textLength="188" lengthAdjust="spacingAndGlyphs">Prompt Encoding and Concat</text>
<circle cx="508.3" cy="549.5" r="5.6" fill="none" stroke="#000" stroke-width="1.1"/><circle cx="508.3" cy="549.5" r="1.1" fill="#000"/>
<text x="515" y="555.5" font-size="15.8" class="" text-anchor="start" textLength="119" lengthAdjust="spacingAndGlyphs">Hadamard Product</text>
<text x="688.8" y="555.5" font-size="15.8" class="" text-anchor="start" textLength="134" lengthAdjust="spacingAndGlyphs">Trainable Parameters</text>
<use href="#snow" x="859.800" y="538" width="23.500" height="23.500"/>
<text x="887.8" y="555.5" font-size="15.8" class="" text-anchor="start" textLength="117.8" lengthAdjust="spacingAndGlyphs">Frozen Parameters</text>
<g class="tofu"><rect x="86.3" y="378.8" width="11" height="15.7" style="stroke-width:1.23"/><text x="91.8" y="391.67" font-size="13.3" text-anchor="middle">?</text></g>
<g class="tofu"><rect x="98.3" y="388" width="8.6" height="11.5" style="stroke-width:1.06"/><text x="102.6" y="397.43" font-size="9.8" text-anchor="middle">?</text></g>
<g class="tofu"><rect x="218" y="378.5" width="11" height="15.7" style="stroke-width:1.23"/><text x="223.5" y="391.37" font-size="13.3" text-anchor="middle">?</text></g>
<g class="tofu"><rect x="230" y="388" width="8.6" height="11.5" style="stroke-width:1.06"/><text x="234.3" y="397.43" font-size="9.8" text-anchor="middle">?</text></g>
<g class="tofu"><rect x="955.1" y="350.2" width="10" height="13.2" style="stroke-width:1.13"/><text x="960.1" y="361.02" font-size="11.2" text-anchor="middle">?</text></g>
<g class="tofu"><rect x="966.3" y="358.3" width="8" height="9.4" style="stroke-width:0.98"/><text x="970.3" y="366.01" font-size="8.0" text-anchor="middle">?</text></g>
<g class="tofu"><rect x="959" y="416" width="9" height="12.5" style="stroke-width:1.1"/><text x="963.5" y="426.25" font-size="10.6" text-anchor="middle">?</text></g>
<g class="tofu"><rect x="1021.5" y="375.7" width="11" height="15.3" style="stroke-width:1.21"/><text x="1027.0" y="388.25" font-size="13.0" text-anchor="middle">?</text></g>
<g class="tofu"><rect x="1033.6" y="385.7" width="7.5" height="11" style="stroke-width:1.04"/><text x="1037.35" y="394.72" font-size="9.3" text-anchor="middle">?</text></g>
<g class="tofu"><rect x="160" y="459.8" width="12" height="15" style="stroke-width:1.2"/><text x="166.0" y="472.1" font-size="12.8" text-anchor="middle">?</text></g>
<g class="tofu"><rect x="155.5" y="484.8" width="6.2" height="7.5" style="stroke-width:0.9"/><text x="158.6" y="490.95" font-size="6.4" text-anchor="middle">?</text></g>
<g class="tofu"><rect x="113.8" y="501.8" width="8" height="10.5" style="stroke-width:1.02"/><text x="117.8" y="510.41" font-size="8.9" text-anchor="middle">?</text></g>
<g class="tofu"><rect x="164.5" y="501.8" width="8" height="10.5" style="stroke-width:1.02"/><text x="168.5" y="510.41" font-size="8.9" text-anchor="middle">?</text></g>
<g class="tofu"><rect x="174.3" y="508.5" width="5.3" height="7.5" style="stroke-width:0.9"/><text x="176.95" y="514.65" font-size="6.4" text-anchor="middle">?</text></g>
<g class="tofu"><rect x="187" y="501.8" width="7.5" height="10.5" style="stroke-width:1.02"/><text x="190.75" y="510.41" font-size="8.9" text-anchor="middle">?</text></g>
<g class="tofu"><rect x="197.5" y="501.8" width="7.5" height="10.5" style="stroke-width:1.02"/><text x="201.25" y="510.41" font-size="8.9" text-anchor="middle">?</text></g>
<g class="tofu"><rect x="212" y="501.8" width="7.5" height="10.5" style="stroke-width:1.02"/><text x="215.75" y="510.41" font-size="8.9" text-anchor="middle">?</text></g>
<g class="tofu"><rect x="220" y="501.8" width="7.5" height="10.5" style="stroke-width:1.02"/><text x="223.75" y="510.41" font-size="8.9" text-anchor="middle">?</text></g>
<g class="tofu"><rect x="152" y="521.3" width="6" height="8" style="stroke-width:0.92"/><text x="155.0" y="527.86" font-size="6.8" text-anchor="middle">?</text></g>
<text x="131.5" y="511.5" font-size="15" class="" text-anchor="start">(</text>
<text x="205" y="511.5" font-size="15" class="" text-anchor="start">,</text>
<text x="227.5" y="511.5" font-size="15" class="" text-anchor="start">)</text>
<g opacity="0.460" fill="#555" transform="translate(-2 -1.500)">
<path d="M797 503.5c-8.3 0-15 5.6-15 12.5 0 3.9 2.1 7.3 5.5 9.6l-1.6 4.6 5.4-2.8c1.8.6 3.7.9 5.7.9h1.2c-.4-1.200-.6-2.400-.6-3.700 0-6.800 6.500-12.300 14.500-12.300h.9c-1.500-5.100-8.100-8.800-16-8.800z"/>
<path d="M812.5 514.2c-6.900 0-12.500 4.700-12.500 10.400s5.600 10.400 12.500 10.400c1.500 0 3-.2 4.300-.6l4.200 2.300-1.200-3.700c3.100-1.900 5.200-4.900 5.200-8.400 0-5.700-5.600-10.400-12.500-10.400z"/>
</g>
<g fill="#fff" opacity="0.550" transform="translate(-2 -1.500)"><circle cx="792" cy="512.5" r="1.9"/><circle cx="802" cy="512.5" r="1.9"/><circle cx="808.5" cy="522" r="1.6"/><circle cx="816.5" cy="522" r="1.6"/></g>
<text x="833" y="530.600" font-size="28" class="cjk" style="fill:#666" opacity="0.500" textLength="211.500">公众号 · 新智元</text>
<rect x="0" y="561.900" width="1080" height="2.100" fill="#e3e3e4"/>
</svg></body></html>
